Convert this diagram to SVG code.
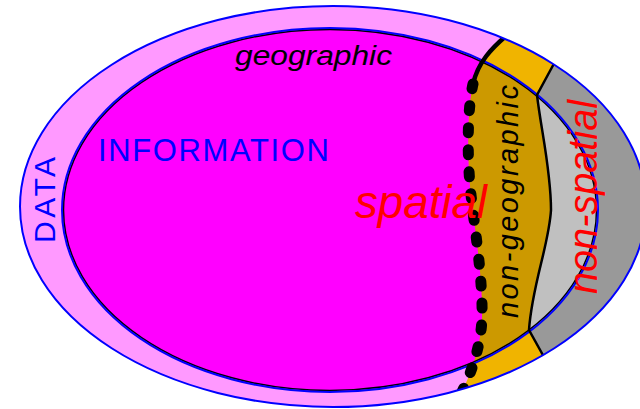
<svg xmlns="http://www.w3.org/2000/svg" width="640" height="409" viewBox="0 0 640 409">
<style>
.lbl{font-family:"Liberation Sans","DejaVu Sans",Arial,sans-serif}
.it{font-style:italic}
</style>
<defs>
<clipPath id="c1"><ellipse cx="333" cy="206.5" rx="313" ry="200.5"/></clipPath>
<clipPath id="c2"><ellipse cx="330" cy="210" rx="268" ry="182"/></clipPath>
<path id="rightG" d="M518,0 L518,26 L506,36 C492,48 478,62 473,84 C467,110 467,160 471,195 C475,230 483,280 482,318 C481,345 472,372 460,396 L455,410 L700,410 L700,0 Z"/>
<path id="rightS" d="M562,0 L562,49 L557,58 L537,95 C541,130 551,170 551,210 C549,245 532,285 529,330 L549,366 L549,409 L700,409 L700,0 Z"/>
</defs>
<rect width="640" height="409" fill="#ffffff"/>
<g id="data">
<ellipse cx="333" cy="206.5" rx="313" ry="200.5" fill="#ff99ff"/>
<g clip-path="url(#c1)">
<use href="#rightG" fill="#f0b400"/>
<use href="#rightS" fill="#999999"/>
</g>
</g>
<g id="information">
<ellipse cx="330" cy="210" rx="268" ry="182" fill="#ff00ff"/>
<g clip-path="url(#c2)">
<use href="#rightG" fill="#cc9900"/>
<use href="#rightS" fill="#c0c0c0"/>
</g>
</g>
<g id="connectors" fill="none">
<ellipse cx="330" cy="210" rx="266.5" ry="180.5" stroke="#000000" stroke-width="1.5"/>
<ellipse cx="330" cy="210" rx="268" ry="182" stroke="#0000ff" stroke-width="2"/>
<g clip-path="url(#c1)">
<path d="M562,49 L557,58 L537,95 C541,130 551,170 551,210 C549,245 532,285 529,330 L549,366" stroke="#000000" stroke-width="2.5"/>
<path d="M518,26 L506,36 C492,48 478,62 473,84" stroke="#000000" stroke-width="4.5"/>
<path d="M473,84 C467,110 467,160 471,195 C475,230 483,280 482,318 C481,345 472,372 460,396 L455,410" stroke="#000000" stroke-width="11" stroke-linecap="round" stroke-dasharray="5 17"/>
</g>
<ellipse cx="333" cy="206.5" rx="313" ry="200.5" stroke="#0000ff" stroke-width="2"/>
</g>
<g id="labels">
<text class="lbl it" x="235" y="65" font-size="27" fill="#000000" textLength="157" lengthAdjust="spacingAndGlyphs">geographic</text>
<text class="lbl" x="98" y="161" font-size="31" fill="#0000ff" textLength="231" lengthAdjust="spacing">INFORMATION</text>
<text class="lbl" transform="translate(55,243) rotate(-90)" font-size="30" fill="#0000ff" textLength="86" lengthAdjust="spacing">DATA</text>
<text class="lbl it" x="355" y="218" font-size="46" fill="#ff0000" textLength="132" lengthAdjust="spacingAndGlyphs">spatial</text>
<text class="lbl it" transform="translate(518,318) rotate(-90)" font-size="29" fill="#000000" textLength="233" lengthAdjust="spacing">non-geographic</text>
<text class="lbl it" transform="translate(597,294) rotate(-90)" font-size="40" fill="#ff0000" textLength="194" lengthAdjust="spacingAndGlyphs">non-spatial</text>
</g>
</svg>
